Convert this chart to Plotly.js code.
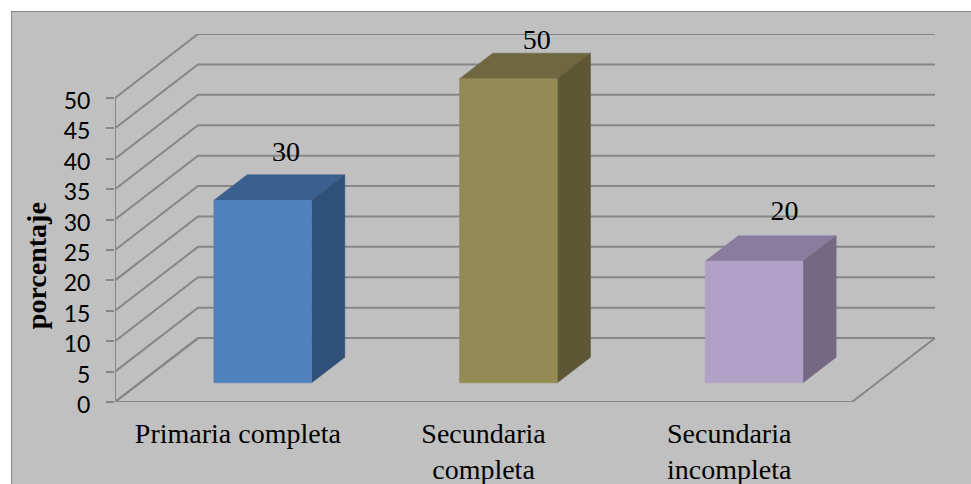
<!DOCTYPE html>
<html><head><meta charset="utf-8">
<script src="https://cdn.plot.ly/plotly-3.0.1.min.js"></script>
<style>
html,body{margin:0;padding:0;background:#fff;overflow:hidden}
#frame{position:absolute;left:11px;top:11px;width:970px;height:480px;background:#c0c0c0;border:1.5px solid #868686;box-sizing:border-box}
#chart{position:absolute;left:0;top:0;width:971px;height:484px}
</style></head><body><div id="frame"></div><div id="chart"></div>
<script>
const categories = ["Primaria completa", "Secundaria<br>completa", "Secundaria<br>incompleta"];
const values = [30, 50, 20];
const yTicks = [0,5,10,15,20,25,30,35,40,45,50];
const frontColors = ["#4f81bd", "#948a54", "#b2a1c7"];
const topColors = ["#3a6090", "#6e6740", "#8a7c9e"];
const sideColors = ["#2f5078", "#5d5735", "#746883"];

// oblique projection in data units
const shearX = 83 / 245.67, shearY = 64 / 6.09;
const halfBar = 0.199, dFront = 0.3, dBack = 0.7;
const px = (x, d) => x + d * shearX;
const py = (y, d) => y + d * shearY;
const xL = -0.5, xR = 2.5;
const lineC = "#868686";
const traces = [];

function line(xs, ys, w) {
  traces.push({type:"scatter", mode:"lines", x:xs, y:ys, hoverinfo:"skip", showlegend:false,
    line:{color:lineC, width:w}, cliponaxis:false});
}
yTicks.forEach(v => {
  line([xL, px(xL,1), px(xR,1)], [v, py(v,1), py(v,1)], 2);
});
line([px(xL,1), xL, xR, px(xR,1)], [py(0,1), 0, 0, py(0,1)], 2);
line([xL, xL], [0, yTicks[yTicks.length-1]], 2);

function poly(xs, ys, c) {
  traces.push({type:"scatter", mode:"lines", x:xs, y:ys, fill:"toself", fillcolor:c, hoverinfo:"skip",
    showlegend:false, line:{color:c, width:0.5}});
}
values.forEach((v, i) => {
  const a = i - halfBar, b = i + halfBar;
  poly([px(a,dFront),px(b,dFront),px(b,dBack),px(a,dBack),px(a,dFront)],
       [py(v,dFront),py(v,dFront),py(v,dBack),py(v,dBack),py(v,dFront)], topColors[i]);
  poly([px(b,dFront),px(b,dBack),px(b,dBack),px(b,dFront),px(b,dFront)],
       [py(0,dFront),py(0,dBack),py(v,dBack),py(v,dFront),py(0,dFront)], sideColors[i]);
  poly([px(a,dFront),px(b,dFront),px(b,dFront),px(a,dFront),px(a,dFront)],
       [py(0,dFront),py(0,dFront),py(v,dFront),py(v,dFront),py(0,dFront)], frontColors[i]);
});
// data labels, lifted above each bar
const labelLift = [7.7, 6.1, 8.0], labelShift = [0.095, 0.115, 0.124];
traces.push({type:"scatter", mode:"text", x:values.map((v,i)=>px(i,dFront)+labelShift[i]),
  y:values.map((v,i)=>py(v,dFront)+labelLift[i]), text:values.map(String), textposition:"middle center",
  textfont:{family:"Liberation Serif", size:28, color:"#000"}, hoverinfo:"skip", showlegend:false, cliponaxis:false});

Plotly.newPlot("chart", traces, {
  width:971, height:484, showlegend:false,
  margin:{l:115, r:36, t:33.5, b:82, pad:0},
  paper_bgcolor:"rgba(0,0,0,0)", plot_bgcolor:"rgba(0,0,0,0)",
  xaxis:{range:[-0.5, -0.5 + 820/245.67], tickmode:"array", tickvals:[0,1,2], ticktext:categories,
    showgrid:false, zeroline:false, showline:false, ticks:"", ticklabelstandoff:12,
    tickfont:{family:"Liberation Serif", size:28, color:"#000"}, fixedrange:true},
  yaxis:{range:[0, (402-33.5)/6.09], tickmode:"array", tickvals:yTicks, showgrid:false, zeroline:false,
    showline:false, ticks:"outside", ticklen:8, tickwidth:2, tickcolor:lineC, ticklabelstandoff:11, ticklabelshift:3,
    tickfont:{family:"Lato", size:23, color:"#000"}, fixedrange:true},
  annotations:[{xref:"paper", yref:"paper", x:(36-115)/820, y:(402-266)/368.5, xanchor:"center", yanchor:"middle",
    text:"<b>porcentaje</b>", textangle:-90, showarrow:false, font:{family:"Liberation Serif", size:28, color:"#000"}}]
}, {displayModeBar:false, staticPlot:true});
</script></body></html>
